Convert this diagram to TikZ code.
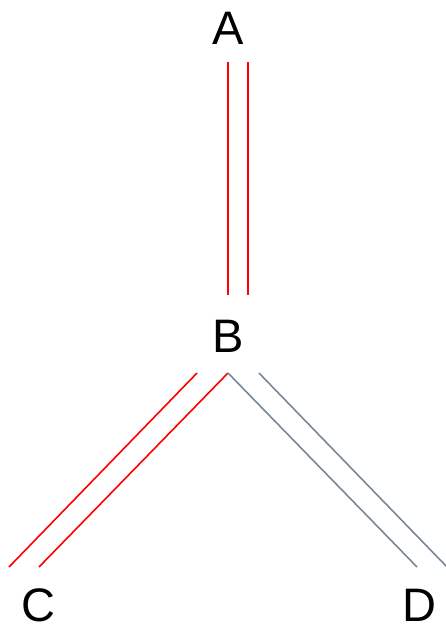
\documentclass[tikz,border=0pt]{standalone}
\usepackage{fontspec}
\setmainfont{Liberation Sans}
\definecolor{edgered}{RGB}{255,0,0}
\definecolor{edgegray}{RGB}{119,136,153}
\begin{document}
\begin{tikzpicture}[x=1pt,y=1pt,
  lbl/.style={font=\fontsize{47}{47}\selectfont, inner sep=0pt, anchor=base},
  redline/.style={draw=edgered, line width=1.6pt},
  grayline/.style={draw=edgegray, line width=1.6pt}]
\useasboundingbox (0,0) rectangle (446,-627);
\node[lbl] (A) at (228,-44.5) {A};
\node[lbl] (B) at (228,-352) {B};
\node[lbl] (C) at (38,-621) {C};
\node[lbl] (D) at (419,-621) {D};
% connector end points
\coordinate (ab1s) at (228,-62);  \coordinate (ab1e) at (228,-295);
\coordinate (ab2s) at (248,-62);  \coordinate (ab2e) at (248,-295);
\coordinate (bc1s) at (197,-373); \coordinate (bc1e) at (9,-567);
\coordinate (bc2s) at (228,-373); \coordinate (bc2e) at (39,-567);
\coordinate (bd1s) at (228,-373); \coordinate (bd1e) at (417,-567);
\coordinate (bd2s) at (259,-373); \coordinate (bd2e) at (448,-568);
\draw[redline] (ab1s) -- (ab1e);
\draw[redline] (ab2s) -- (ab2e);
\draw[redline] (bc1s) -- (bc1e);
\draw[redline] (bc2s) -- (bc2e);
\draw[grayline] (bd1s) -- (bd1e);
\draw[grayline] (bd2s) -- (bd2e);
\end{tikzpicture}
\end{document}
